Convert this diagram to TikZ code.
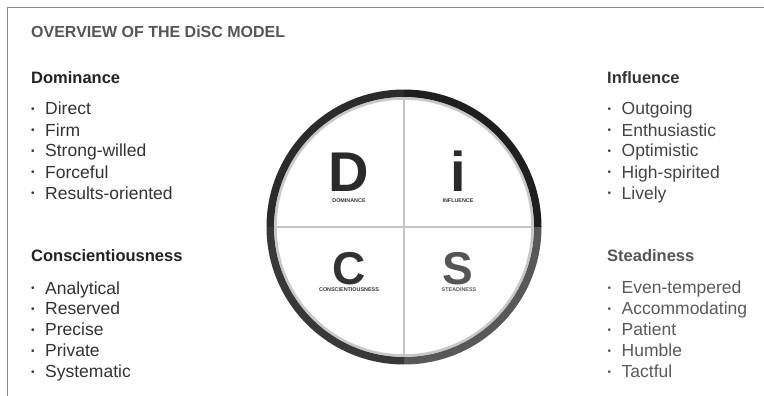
\documentclass[tikz,border=0pt]{standalone}
\usepackage{fontspec}
\setmainfont{Liberation Sans}
\definecolor{ttl}{HTML}{555555}
\definecolor{hdA}{HTML}{222222}
\definecolor{hdB}{HTML}{333333}
\definecolor{hdC}{HTML}{555555}
\definecolor{itA}{HTML}{333333}
\definecolor{itB}{HTML}{444444}
\definecolor{itC}{HTML}{5a5a5a}
\definecolor{frame}{HTML}{8a8a8a}
\definecolor{crossc}{HTML}{c4c4c4}
\newcommand\bul{\makebox[14pt][l]{\raisebox{2.4pt}{\fontsize{10}{10}\selectfont •}}}
\tikzset{
  ttlstyle/.style={inner sep=0pt, anchor=base west, font=\fontsize{16}{16}\selectfont\bfseries, text=ttl},
  head/.style={inner sep=0pt, anchor=base west, font=\fontsize{16.5}{16.5}\selectfont\bfseries},
  item/.style={inner sep=0pt, anchor=base west, font=\fontsize{17.5}{17.5}\selectfont},
  big/.style={inner sep=0pt, anchor=base, text depth=0pt},
  small/.style={inner sep=0pt, anchor=base, text depth=0pt, font=\fontsize{5.4}{5.4}\selectfont\bfseries, text=hdB},
  ringpart/.style={line width=7.5pt},
}
\begin{document}
\begin{tikzpicture}[x=1pt,y=-1pt]
\useasboundingbox (0,0) rectangle (764,396);
\fill[white] (0,0) rectangle (764,396);
% frame
\draw[frame, line width=1.5pt] (764,7.5) -- (7.5,7.5) -- (7.5,396);
% title
\node[ttlstyle] (title) at (31,38) {OVERVIEW OF THE DiSC MODEL};
% headings
\node[head, text=hdA] (hD) at (31,83.3) {Dominance};
\node[head, text=hdA] (hC) at (31,261.7) {Conscientiousness};
\node[head, text=hdB] (hI) at (607,83.3) {Influence};
\node[head, text=hdC] (hS) at (607,261.7) {Steadiness};
% lists
\foreach \t [count=\i] in {Direct,Firm,Strong-willed,Forceful,Results-oriented}
  \node[item, text=itA] (d\i) at (31,115+21*\i-21) {\bul\t};
\foreach \t [count=\i] in {Analytical,Reserved,Precise,Private,Systematic}
  \node[item, text=itA] (c\i) at (31,294+20.9*\i-20.9) {\bul\t};
\foreach \t [count=\i] in {Outgoing,Enthusiastic,Optimistic,High-spirited,Lively}
  \node[item, text=itB] (i\i) at (607.5,115+21*\i-21) {\bul\t};
\foreach \t [count=\i] in {Even-tempered,Accommodating,Patient,Humble,Tactful}
  \node[item, text=itC] (s\i) at (607.5,293.5+21*\i-21) {\bul\t};
% circle
\coordinate (c) at (404,227);
\draw[line width=2.5pt, color={rgb,255:red,200;green,200;blue,200}] (c) circle[radius=128.5];
\draw[ringpart, color={rgb,255:red,43;green,43;blue,43}] ([shift={(180:133.75)}]c) arc[start angle=180, end angle=270, radius=133.75];
\draw[ringpart, color={rgb,255:red,31;green,31;blue,31}] ([shift={(270:133.75)}]c) arc[start angle=270, end angle=360, radius=133.75];
\draw[ringpart, color={rgb,255:red,88;green,88;blue,88}] ([shift={(0:133.75)}]c) arc[start angle=0, end angle=90, radius=133.75];
\draw[ringpart, color={rgb,255:red,56;green,56;blue,56}] ([shift={(90:133.75)}]c) arc[start angle=90, end angle=180, radius=133.75];
\draw[crossc, line width=1.3pt] ([yshift=-127pt]c) -- ([yshift=127pt]c);
\draw[crossc, line width=1.3pt] ([xshift=-127pt]c) -- ([xshift=127pt]c);
% letters
\node[big, font=\fontsize{56}{56}\selectfont\bfseries, text={rgb,255:red,42;green,42;blue,42}] (LD) at (349,191.7) {D};
\node[big, font=\fontsize{56}{56}\selectfont\bfseries, text={rgb,255:red,42;green,42;blue,42}] (Li) at (458,191.7) {i};
\node[big, font=\fontsize{46}{46}\selectfont\bfseries, text={rgb,255:red,50;green,50;blue,50}] (LC) at (349.5,284.5) {C};
\node[big, font=\fontsize{46}{46}\selectfont\bfseries, text={rgb,255:red,85;green,85;blue,85}] (LS) at (458,284.5) {S};
\node[small] (tD) at (349,202.5) {DOMINANCE};
\node[small] (tI) at (458,202.5) {INFLUENCE};
\node[small] (tC) at (349,291.5) {CONSCIENTIOUSNESS};
\node[small, text=itC] (tS) at (459,291.5) {STEADINESS};
\end{tikzpicture}
\end{document}
